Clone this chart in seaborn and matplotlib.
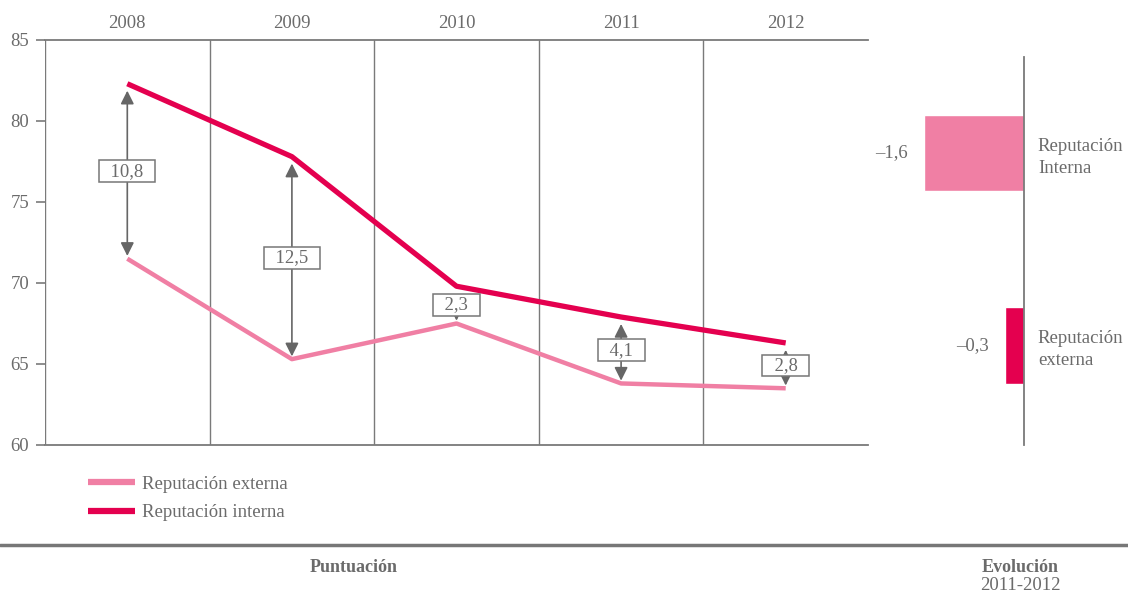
import matplotlib
matplotlib.use("Agg")
import matplotlib.pyplot as plt
from matplotlib.lines import Line2D
import numpy as np
import pandas as pd
import seaborn as sns

# Scores by year
years = ["2008", "2009", "2010", "2011", "2012"]
rep_externa = [71.5, 65.3, 67.5, 63.8, 63.5]
rep_interna = [82.3, 77.8, 69.8, 67.9, 66.3]

# Change 2011-2012
evo_labels = ["Reputación\nInterna", "Reputación\nexterna"]
evo_values = [-1.6, -0.3]

DARK = "#E4004F"
LIGHT = "#F07FA4"
GREY = "#6b6b6b"
LINE_GREY = "#7a7a7a"
FS = 13.5

sns.set_theme(style="white")
plt.rcParams["font.family"] = ["Liberation Serif", "DejaVu Serif"]
plt.rcParams["text.color"] = GREY
plt.rcParams["axes.labelcolor"] = GREY
plt.rcParams["xtick.color"] = GREY
plt.rcParams["ytick.color"] = GREY


def fmt(v):
    return f"{v:.1f}".replace(".", ",").replace("-", "–")


fig = plt.figure(figsize=(11.28, 5.96), dpi=100)
W, H = 1128, 596

# ---- main line chart ----
ax = fig.add_axes([45 / W, 1 - 445 / H, 823 / W, 405 / H])
df = pd.DataFrame({
    "pos": np.tile(np.arange(len(years)), 2),
    "valor": rep_externa + rep_interna,
    "serie": ["Reputación externa"] * len(years) + ["Reputación interna"] * len(years),
})
sns.lineplot(data=df[df.serie == "Reputación externa"], x="pos", y="valor",
             color=LIGHT, lw=3.2, ax=ax, legend=False, solid_capstyle="butt")
sns.lineplot(data=df[df.serie == "Reputación interna"], x="pos", y="valor",
             color=DARK, lw=3.8, ax=ax, legend=False, solid_capstyle="butt")

ax.set_xlim(-0.5, len(years) - 0.5)
ax.set_ylim(60, 85)
ax.set_yticks(np.arange(60, 86, 5))
ax.set_xticks(np.arange(len(years)))
ax.set_xticklabels(years)
ax.set_xticks(np.arange(-0.5, len(years) - 1, 1), minor=True)
ax.xaxis.tick_top()
ax.tick_params(axis="x", which="major", length=0, pad=6, labelsize=FS)
ax.tick_params(axis="x", which="minor", length=0)
ax.tick_params(axis="y", which="major", left=True, length=6.5, width=1.2,
               color=LINE_GREY, pad=5, labelsize=FS)
ax.grid(False)
ax.grid(which="minor", axis="x", color=LINE_GREY, lw=1.0)
ax.set_xlabel("")
ax.set_ylabel("")
for side in ("left", "right"):
    ax.spines[side].set_visible(False)
for side in ("top", "bottom"):
    ax.spines[side].set_color(LINE_GREY)
    ax.spines[side].set_linewidth(1.3)

# gap arrows with their values
for i, (ext, inte) in enumerate(zip(rep_externa, rep_interna)):
    ax.annotate("", xy=(i, inte), xytext=(i, ext),
                arrowprops=dict(arrowstyle="<|-|>", color="#666666", lw=1.2,
                                mutation_scale=20, shrinkA=2, shrinkB=5),
                zorder=3)
    ax.text(i, (ext + inte) / 2, f"  {fmt(inte - ext)}  ", ha="center", va="center",
            fontsize=FS, color=GREY, zorder=5,
            bbox=dict(boxstyle="square,pad=0.12", fc="white", ec="#777777", lw=1.1))

handles = [Line2D([], [], color=LIGHT, lw=4.5, solid_capstyle="butt"),
           Line2D([], [], color=DARK, lw=4.5, solid_capstyle="butt")]
fig.legend(handles, ["Reputación externa", "Reputación interna"],
           loc="upper left", bbox_to_anchor=(71 / W, 1 - 459 / H),
           frameon=False, fontsize=FS, handlelength=2.5, handletextpad=0.4,
           labelspacing=0.6, labelcolor=GREY)

# ---- evolution bars ----
ax2 = fig.add_axes([870 / W, 1 - 445 / H, 154 / W, 388 / H])
sns.barplot(x=evo_values, y=evo_labels, hue=evo_labels, palette=[LIGHT, DARK],
            orient="h", width=0.4, legend=False, ax=ax2, saturation=1)
ax2.set_xlim(-2.47, 0)
ax2.set_ylim(1.52, -0.5)
ax2.set_xticks([])
ax2.yaxis.tick_right()
ax2.tick_params(axis="y", length=0, pad=10, labelsize=FS)
for lbl in ax2.get_yticklabels():
    lbl.set_horizontalalignment("left")
    lbl.set_linespacing(1.4)
ax2.set_xlabel("")
ax2.set_ylabel("")
for side in ("left", "top", "bottom"):
    ax2.spines[side].set_visible(False)
ax2.spines["right"].set_color(LINE_GREY)
ax2.spines["right"].set_linewidth(1.3)
for cont, v in zip(ax2.containers, evo_values):
    ax2.bar_label(cont, labels=[fmt(v)], padding=12, fontsize=FS, color=GREY)

# ---- footer ----
fig.add_artist(Line2D([0, 1], [1 - 545 / H, 1 - 545 / H], transform=fig.transFigure,
                      color="#777777", lw=2.5))
fig.text(354 / W, 1 - 568 / H, "Puntuación", ha="center", va="center",
         fontsize=13, fontweight="bold", color=GREY)
fig.text(1020 / W, 1 - 568 / H, "Evolución", ha="center", va="center",
         fontsize=13, fontweight="bold", color=GREY)
fig.text(1020 / W, 1 - 586 / H, "2011-2012", ha="center", va="center",
         fontsize=FS, color=GREY)

fig.savefig("out.png", dpi=100, facecolor="white")
